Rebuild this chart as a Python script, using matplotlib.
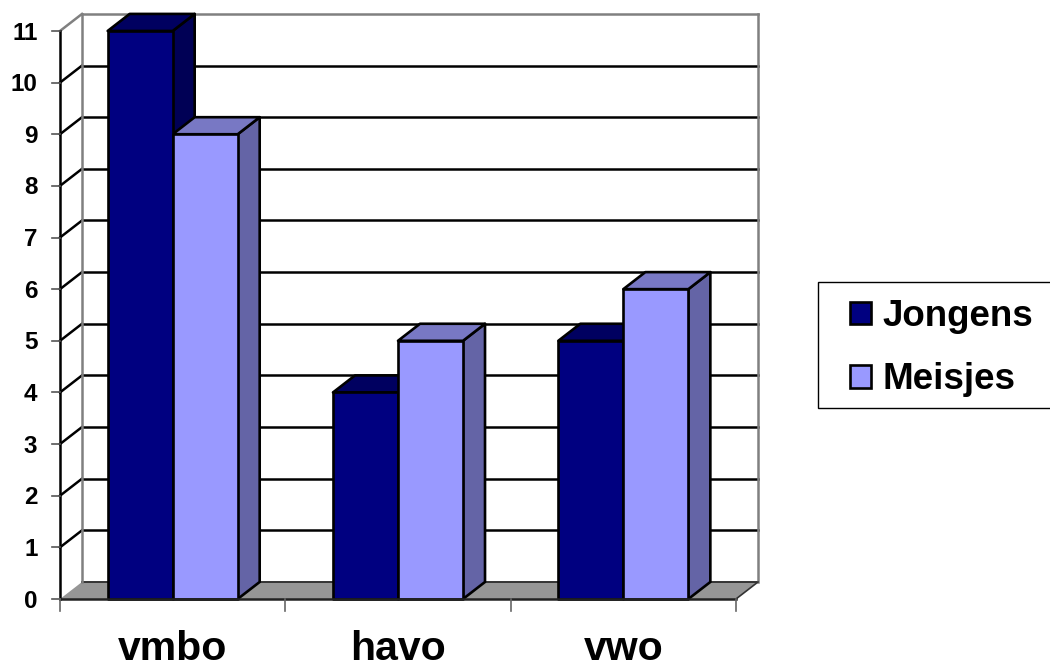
import matplotlib
matplotlib.use('Agg')
import matplotlib.pyplot as plt
from matplotlib.patches import Polygon, Patch, Rectangle

plt.rcParams['font.family'] = ['Liberation Sans', 'DejaVu Sans']

categories = ['vmbo', 'havo', 'vwo']
jongens = [11, 4, 5]
meisjes = [9, 5, 6]
y_ticks = list(range(0, 12))
series_names = ['Jongens', 'Meisjes']

# 3d look: depth of the box in data units
depth_x = 0.0977
depth_y = 0.33
bar_w = 0.2885
gap = 0.2115

navy = ('#000080', '#000060', '#000055')
lilac = ('#9999ff', '#7878c4', '#6464a6')
grey = '#969696'

fig = plt.figure(figsize=(10.5, 6.64), dpi=100)
ax = fig.add_axes([0, 0, 1, 1])
ax.set_xlim(-60 / 225.33, 990 / 225.33)
ax.set_ylim(-65 / 51.64, 599 / 51.64)
ax.axis('off')


def box(x, h, cols):
    # front, top and side face of one bar
    ax.add_patch(Polygon([(x + bar_w, 0), (x + bar_w + depth_x, depth_y), (x + bar_w + depth_x, h + depth_y), (x + bar_w, h)],
                         fc=cols[2], ec='black', lw=1.9, joinstyle='round', zorder=3))
    ax.add_patch(Polygon([(x, h), (x + depth_x, h + depth_y), (x + bar_w + depth_x, h + depth_y), (x + bar_w, h)],
                         fc=cols[1], ec='black', lw=1.9, joinstyle='round', zorder=3))
    ax.add_patch(Polygon([(x, 0), (x + bar_w, 0), (x + bar_w, h), (x, h)],
                         fc=cols[0], ec='black', lw=1.9, joinstyle='round', zorder=4))


x_end = len(categories)
top = y_ticks[-1]

# floor
ax.add_patch(Polygon([(0, 0), (x_end, 0), (x_end + depth_x, depth_y), (depth_x, depth_y)],
                     fc=grey, ec='none', zorder=1))

# walls and grid
for v in y_ticks[1:-1]:
    ax.plot([depth_x, x_end + depth_x], [v + depth_y] * 2, color='black', lw=1.8, zorder=1)
    ax.plot([0, depth_x], [v, v + depth_y], color='black', lw=1.8, zorder=1)
ax.plot([depth_x, x_end + depth_x], [depth_y, depth_y], color='#333333', lw=1.4, zorder=1)
ax.plot([depth_x, x_end + depth_x], [top + depth_y] * 2, color='#808080', lw=1.8, zorder=1)
ax.plot([0, depth_x], [top, top + depth_y], color='#808080', lw=1.8, zorder=1)
ax.plot([depth_x, depth_x], [depth_y, top + depth_y], color='#808080', lw=1.8, zorder=1)
ax.plot([x_end + depth_x, x_end + depth_x], [depth_y, top + depth_y], color='#808080', lw=1.8, zorder=1)
ax.plot([x_end, x_end + depth_x], [0, depth_y], color='#333333', lw=1.2, zorder=1)

# bars
for i in range(len(categories)):
    box(i + gap, jongens[i], navy)
    box(i + gap + bar_w, meisjes[i], lilac)

# axes lines and ticks
ax.plot([0, 0], [0, top], color='black', lw=1.8, zorder=5)
ax.plot([0, x_end], [0, 0], color='#222222', lw=1.8, zorder=5)
for v in y_ticks:
    ax.plot([-0.035, 0], [v, v], color='#555555', lw=1.2, zorder=5)
    ax.text(-0.1, v - 0.04, str(v), ha='right', va='center', fontsize=17.5, fontweight='bold', zorder=6)
for i in range(len(categories) + 1):
    ax.plot([i, i], [0, -0.23], color='#666666', lw=1.2, zorder=5)
for i, name in enumerate(categories):
    ax.text(i + 0.5, -1.19, name, ha='center', va='baseline', fontsize=29.5, fontweight='bold', zorder=6)

# legend box runs off the right edge, so frame and entries are placed apart
ax.add_patch(Rectangle((818 / 1050, 1 - 408 / 664), 240 / 1050, 126 / 664, transform=fig.transFigure,
                       fc='white', ec='black', lw=1.0, zorder=7))
handles = [Patch(fc=navy[0], ec='black', lw=1.9), Patch(fc=lilac[0], ec='black', lw=1.9)]
leg = ax.legend(handles, series_names, loc='upper left',
                bbox_to_anchor=(850 / 1050, 1 - 299 / 664),
                bbox_transform=fig.transFigure, borderaxespad=0,
                prop={'size': 26.5, 'weight': 'bold'}, frameon=False,
                handlelength=0.57, handleheight=0.57,
                handletextpad=0.3, labelspacing=0.77, borderpad=0)
leg.set_zorder(8)

fig.savefig('out.png', dpi=100)
